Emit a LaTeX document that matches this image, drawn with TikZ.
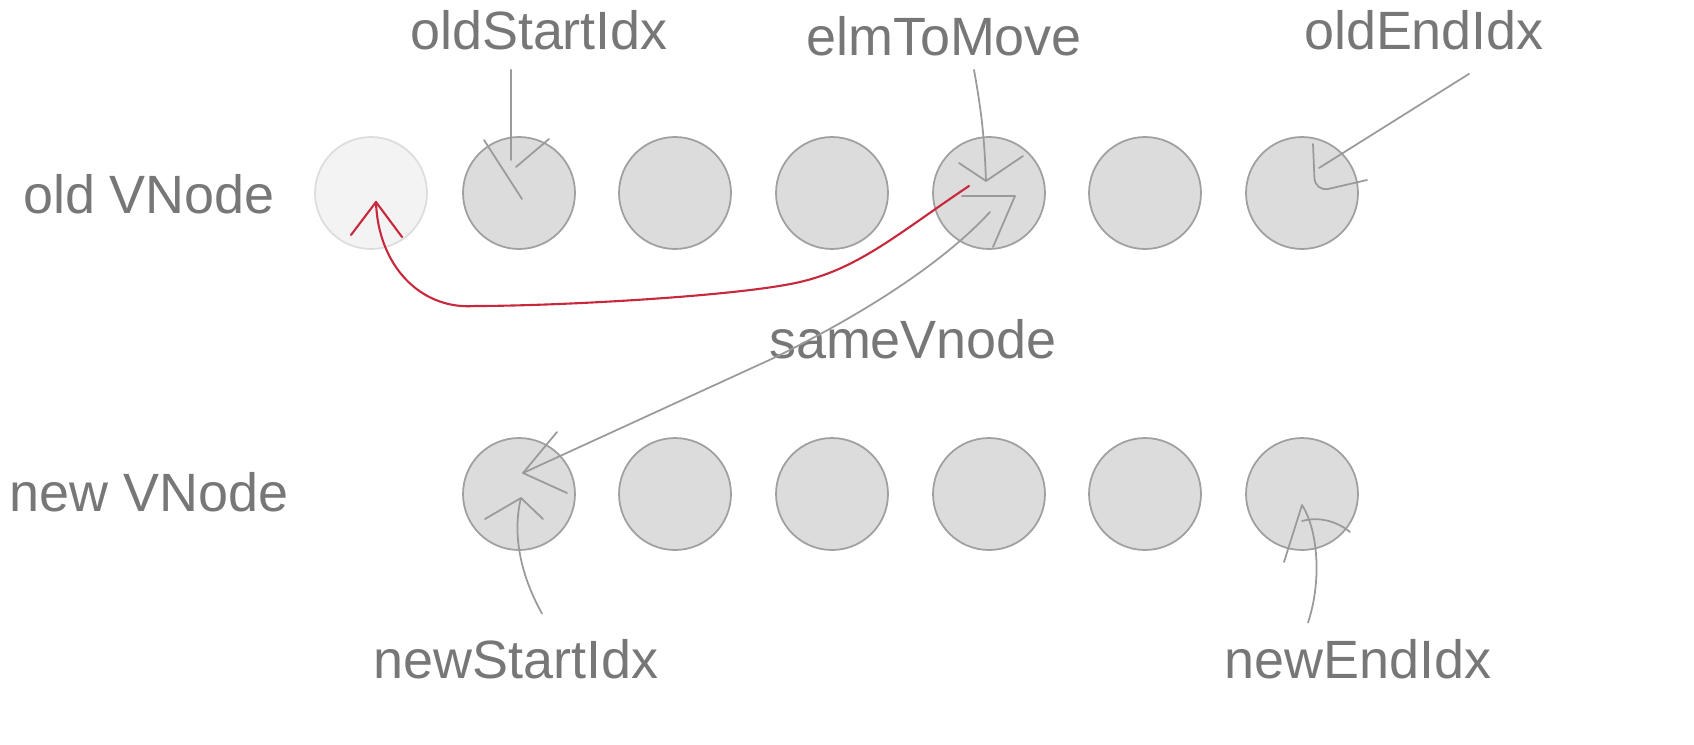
\documentclass[tikz,border=0pt]{standalone}
\usepackage{fontspec}
\setmainfont{Liberation Sans}
\usetikzlibrary{positioning}

\definecolor{txtgray}{HTML}{777777}
\definecolor{pengray}{HTML}{9A9A9A}
\definecolor{nodefill}{HTML}{DCDCDC}
\definecolor{nodeline}{HTML}{A0A0A0}
\definecolor{emptyfill}{HTML}{F3F3F3}
\definecolor{emptyline}{HTML}{DDDDDD}
\definecolor{movered}{HTML}{C8283C}

\tikzset{
  vnode/.style={circle, draw=nodeline, fill=nodefill, line width=1pt,
                minimum size=2.24cm, inner sep=0pt},
  lbl/.style={text=txtgray, font=\fontsize{30.7}{36}\selectfont,
              inner sep=0pt, anchor=base},
  pen/.style={draw=pengray, line width=1pt, line cap=round, line join=round},
  redpen/.style={draw=movered, line width=1.2pt, line cap=round, line join=round}
}

\begin{document}
\begin{tikzpicture}[x=0.02cm, y=-0.02cm]
  \useasboundingbox (0,0) rectangle (1694,744);

  % Nodes
  \node[vnode, draw=emptyline, fill=emptyfill] (o1) at (371,193) {};
  \foreach \i/\x in {2/519, 3/675, 4/832, 5/989, 6/1145, 7/1302}
    \node[vnode] (o\i) at (\x,193) {};
  \foreach \i/\x in {1/519, 2/675, 3/832, 4/989, 5/1145, 6/1302}
    \node[vnode] (n\i) at (\x,494) {};

  % Labels
  \node[lbl] (oldrow) at (149,213) {old VNode};
  \node[lbl] (newrow) at (149,511) {new VNode};
  \node[lbl] (ostart) at (539,49) {oldStartIdx};
  \node[lbl] (elm)    at (944,55) {elmToMove};
  \node[lbl] (oend)   at (1424,49) {oldEndIdx};
  \node[lbl] (same)   at (913,358) {sameVnode};
  \node[lbl] (nstart) at (516,678) {newStartIdx};
  \node[lbl] (nend)   at (1358,678) {newEndIdx};

  % Edges (drawn by hand in the original)
  % oldStartIdx
  \draw[pen] ([shift={(-28,20)}]ostart.south) -- ([shift={(-8,-33)}]o2.center);
  \draw[pen] ([shift={(-35,-53)}]o2.center) -- ++(38,59)
             ([shift={(30,-54)}]o2.center) -- ++(-33,28);
  % elmToMove
  \draw[pen] ([shift={(30,14)}]elm.south) to[bend left=4] ([shift={(-3,-12)}]o5.center);
  \draw[pen] ([shift={(-30,-30)}]o5.center) -- ([shift={(-3,-12)}]o5.center)
             -- ([shift={(34,-37)}]o5.center);
  % oldEndIdx
  \draw[pen] ([shift={(45,24)}]oend.south) -- ([shift={(17,-25)}]o7.center);
  \draw[pen, rounded corners=8] ([shift={(11,-49)}]o7.center) -- ([shift={(13,-1)}]o7.center)
             -- ([shift={(65,-13)}]o7.center);
  % sameVnode: elmToMove <-> newStartIdx
  \draw[pen] ([shift={(1,19)}]o5.center) .. controls +(-35,38) and +(116,-57)
             .. ([shift={(5,0)}]same.base west) -- ([shift={(4,-21)}]n1.center);
  \draw[pen] ([shift={(-27,3)}]o5.center) -- ([shift={(26,3)}]o5.center)
             -- ([shift={(4,54)}]o5.center);
  \draw[pen] ([shift={(38,-62)}]n1.center) -- ([shift={(4,-21)}]n1.center)
             -- ([shift={(48,-1)}]n1.center);
  % newStartIdx
  \draw[pen] ([shift={(26,-25)}]nstart.north) .. controls +(-24,-43) and +(-8,32)
             .. ([shift={(2,4)}]n1.center);
  \draw[pen] ([shift={(-34,25)}]n1.center) -- ([shift={(2,4)}]n1.center)
             -- ([shift={(24,25)}]n1.center);
  % newEndIdx
  \draw[pen] ([shift={(-50,-16)}]nend.north) .. controls +(14,-42) and +(16,25)
             .. ([shift={(0,11)}]n6.center) -- ([shift={(-18,68)}]n6.center);
  \draw[pen] ([shift={(0,27)}]n6.center) .. controls +(18,-5) and +(-12,-10)
             .. ([shift={(48,38)}]n6.center);

  % elmToMove is moved in front of oldStartIdx
  \draw[redpen] ([shift={(-20,-7)}]o5.center) .. controls +(-69,46) and +(60,-14) .. (800,282)
                .. controls +(-60,14) and +(85,0) .. (475,306)
                .. controls +(-55,4) and +(2,63) .. ([shift={(5,9)}]o1.center);
  \draw[redpen] ([shift={(-20,42)}]o1.center) -- ([shift={(5,9)}]o1.center)
                -- ([shift={(31,44)}]o1.center);
\end{tikzpicture}
\end{document}
